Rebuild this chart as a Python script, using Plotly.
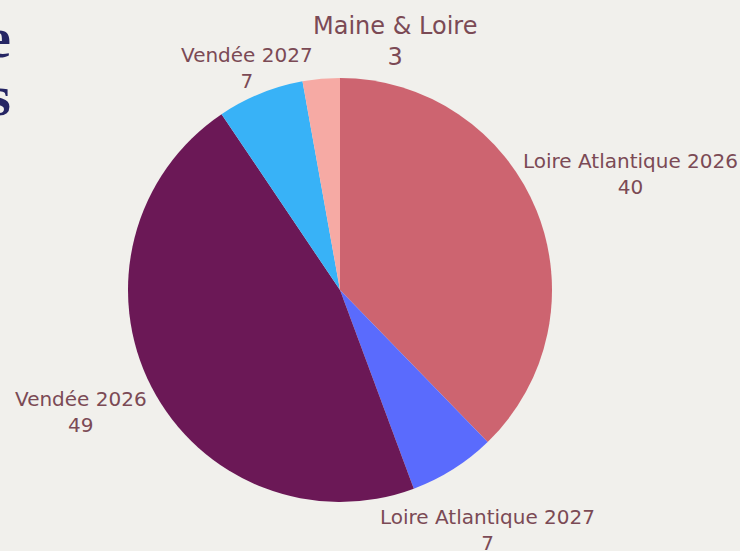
import plotly.graph_objects as go

labels = ["Loire Atlantique 2026", "Loire Atlantique 2027", "Vendée 2026", "Vendée 2027", "Maine & Loire"]
values = [40, 7, 49, 7, 3]
colors = ["#cd6470", "#5a6bfd", "#6b1856", "#38b2f7", "#f6aaa4"]

W, H = 740, 551
cx, cy, r = 340, 290, 212

fig = go.Figure(go.Pie(
    labels=labels, values=values, sort=False, direction="clockwise", rotation=0,
    marker=dict(colors=colors, line=dict(width=0)),
    textinfo="none", hoverinfo="label+value", showlegend=False,
    domain=dict(x=[(cx - r) / W, (cx + r) / W], y=[(H - cy - r) / H, (H - cy + r) / H]),
))

# label positions (pixel centres) and font sizes
label_pos = [(630, 174, 20), (487, 530, 20), (81, 412, 20), (247, 68, 20), (395, 41, 24)]
label_color = "#7b4a55"
for name, val, (x, y, fs) in zip(labels, values, label_pos):
    fig.add_annotation(x=x / W, y=1 - y / H, xref="paper", yref="paper",
                       text=f"{name}<br>{val}", showarrow=False,
                       font=dict(family="DejaVu Sans, sans-serif", size=fs, color=label_color),
                       align="center", xanchor="center", yanchor="middle")

# cropped title letters at the left edge
for letter, y in [("e", 38), ("s", 96)]:
    fig.add_annotation(x=13 / W, y=1 - y / H, xref="paper", yref="paper", text=f"<b>{letter}</b>",
                       showarrow=False, xanchor="right", yanchor="middle",
                       font=dict(family="Liberation Serif, serif", size=56, color="#252563"))

fig.update_layout(width=W, height=H, margin=dict(l=0, r=0, t=0, b=0),
                  paper_bgcolor="#f1f0ec", plot_bgcolor="#f1f0ec")
fig.write_html("out.html", config={"displayModeBar": False},
               post_script="document.body.style.margin='0';document.body.style.background='#f1f0ec';")
